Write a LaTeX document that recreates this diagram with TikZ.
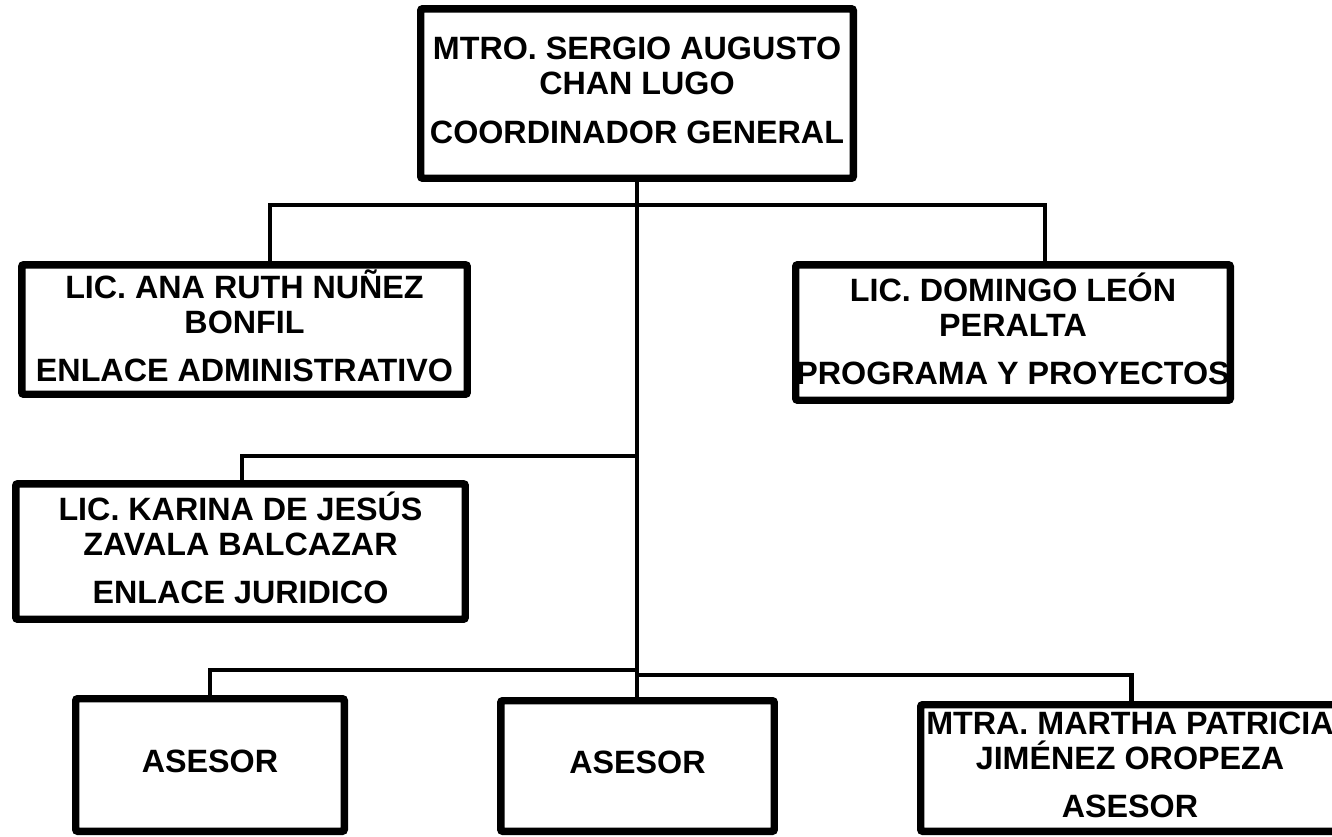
\documentclass[tikz,border=0pt]{standalone}
\usepackage{fontspec}
\setmainfont{Liberation Sans}
\newcommand\capst{\rule[-0.25em]{0pt}{0.966em}}
\tikzset{
  box/.style={draw, line width=5.6pt, rounded corners=1.5pt, align=center, inner sep=0pt,
    font=\fontsize{24.2}{26.25}\selectfont\bfseries},
  conn/.style={line width=3.4pt, line join=miter},
}
\begin{document}
\lineskiplimit=-100pt
\begin{tikzpicture}[x=0.75pt,y=-0.75pt]
\useasboundingbox (0,0) rectangle (1332,836);
% boxes
\node[box, minimum width=324.4pt, minimum height=127.1pt] (top) at (637,93.5)
  {\capst MTRO. SERGIO AUGUSTO\\ \capst CHAN LUGO\\[10.5pt] \capst COORDINADOR GENERAL};
\node[box, minimum width=334.1pt, minimum height=97.1pt] (ana) at (244.5,329.5)
  {\capst LIC. ANA RUTH NUÑEZ\\ \capst BONFIL\\[9.75pt] \capst ENLACE ADMINISTRATIVO};
\node[box, minimum width=325.9pt, minimum height=101.6pt] (dom) at (1013,332.5)
  {\capst LIC. DOMINGO LEÓN\\ \capst PERALTA\\[9.75pt] \capst PROGRAMA Y PROYECTOS};
\node[box, minimum width=337.1pt, minimum height=101.6pt] (kar) at (240.5,551.5)
  {\capst LIC. KARINA DE JESÚS\\ \capst ZAVALA BALCAZAR\\[9.75pt] \capst ENLACE JURIDICO};
\node[box, minimum width=201.4pt, minimum height=99.4pt] (a1) at (210,765) {\capst ASESOR};
\node[box, minimum width=205.1pt, minimum height=97.9pt] (a2) at (637.5,766) {\capst ASESOR};
\node[box, minimum width=313.9pt, minimum height=94.9pt] (mar) at (1130,768)
  {\capst MTRA. MARTHA PATRICIA\\ \capst JIMÉNEZ OROPEZA\\[9.75pt] \capst ASESOR};
% connector points
\coordinate (tl) at (270,205);
\coordinate (tr) at (1045,205);
\coordinate (kj) at (638,456);
\coordinate (kc) at (242,456);
\coordinate (bj) at (638,670);
\coordinate (b1) at (210,670);
\coordinate (bj2) at (638,675);
\coordinate (b3) at (1131.5,675);
% connectors
\draw[conn] (top.south) -- (top.south |- a2.north);
\draw[conn] (tl |- ana.north) -- (tl) -- (tr) -- (tr |- dom.north);
\draw[conn] (kj) -- (kc) -- (kc |- kar.north);
\draw[conn] (bj) -- (b1) -- (b1 |- a1.north);
\draw[conn] (bj2) -- (b3) -- (b3 |- mar.north);
\end{tikzpicture}
\end{document}
